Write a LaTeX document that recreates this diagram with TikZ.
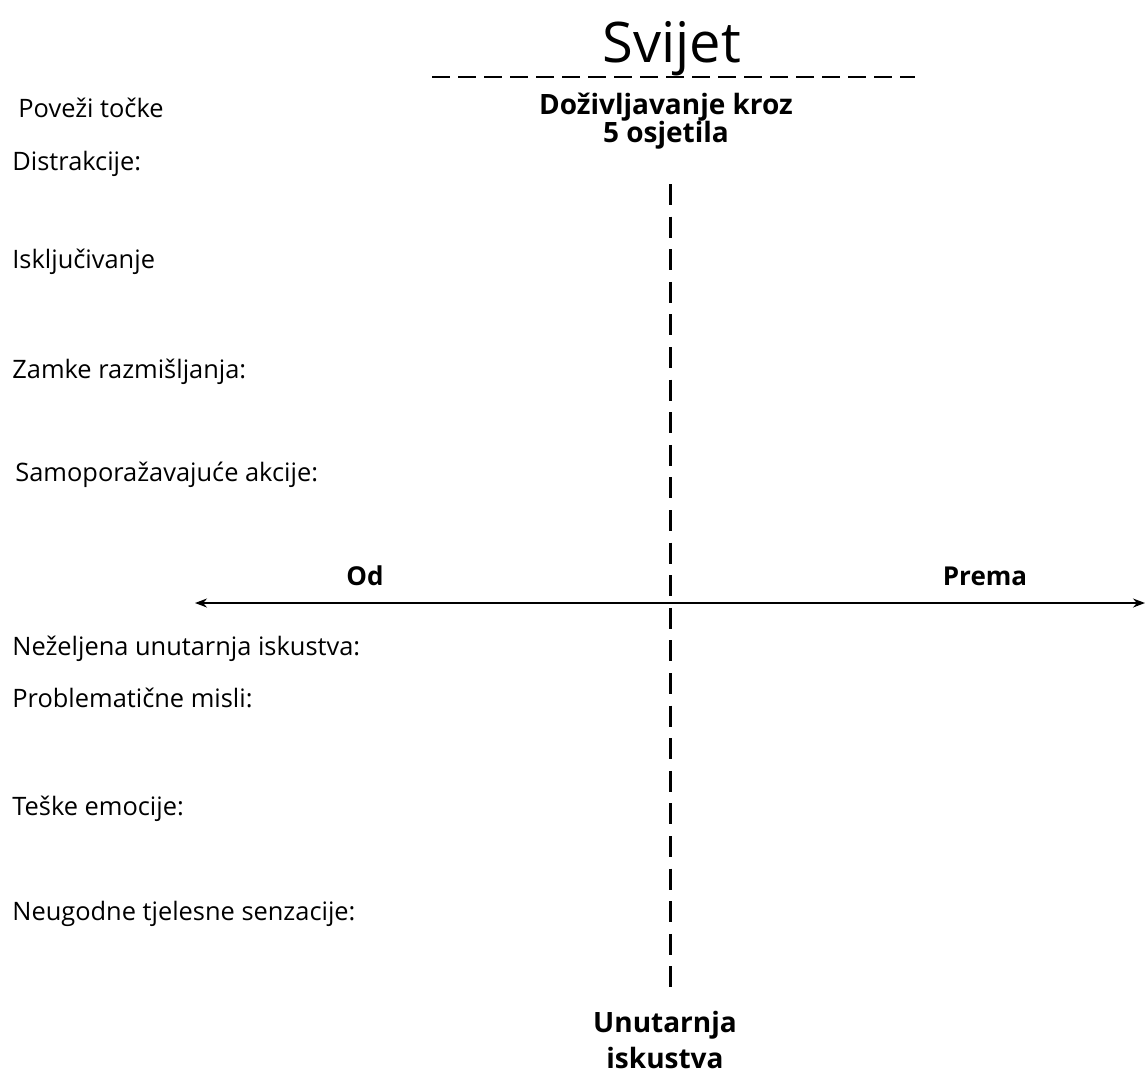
\documentclass[tikz,border=0pt]{standalone}
\usepackage{fontspec}
\setmainfont{Open Sans}
\usetikzlibrary{arrows.meta}

\begin{document}
\begin{tikzpicture}[x=0.5pt,y=-0.5pt,
        lbl/.style={anchor=base west,inner sep=0pt,font=\fontsize{12.7}{14}\selectfont},
        head/.style={anchor=base,inner sep=0pt,align=center,
            font=\fontsize{14}{14}\selectfont\bfseries},
        axis/.style={line width=0.75pt,{Stealth[length=6pt,width=4.5pt]}-{Stealth[length=6pt,width=4.5pt]}}]
\useasboundingbox (0,0) rectangle (1145,1072);

% naslov i osi
\node[anchor=base,inner sep=0pt,font=\fontsize{28}{34}\selectfont] (svijet) at (672,62) {Svijet};
\coordinate (crtaL) at (432,77);
\coordinate (crtaD) at (915,77);
\draw[line width=1pt,dash pattern=on 9pt off 4pt] (crtaL) -- (crtaD);

\node[head] (osjetila) at (666,142) {Doživljavanje kroz\\5 osjetila};
\node[head,font=\fontsize{14}{18}\selectfont\bfseries] (unutarnja) at (665,1068) {Unutarnja\\iskustva};

\coordinate (gore) at (670,184);
\coordinate (dolje) at (670,990);
\draw[line width=1.5pt,dash pattern=on 10.5pt off 5.8pt] (gore) -- (dolje);

\coordinate (lijevo) at (195,603);
\coordinate (desno) at (1145,603);
\draw[axis] (lijevo) -- (desno);
\node[head,font=\fontsize{13}{15}\selectfont\bfseries] (od) at (365,585) {Od};
\node[head,font=\fontsize{13}{15}\selectfont\bfseries] (prema) at (985,585) {Prema};

% lijevi stupac
\node[lbl] (povezi) at (18,117) {Poveži točke};
\node[lbl] (distr) at (12,170) {Distrakcije:};
\node[lbl] (iskljuc) at (12,268) {Isključivanje};
\node[lbl] (zamke) at (12,378) {Zamke razmišljanja:};
\node[lbl] (akcije) at (15,481) {Samoporažavajuće akcije:};
\node[lbl] (nezelj) at (12,655) {Neželjena unutarnja iskustva:};
\node[lbl] (misli) at (12,707) {Problematične misli:};
\node[lbl] (emocije) at (12,815) {Teške emocije:};
\node[lbl] (senz) at (12,920) {Neugodne tjelesne senzacije:};

\end{tikzpicture}
\end{document}
